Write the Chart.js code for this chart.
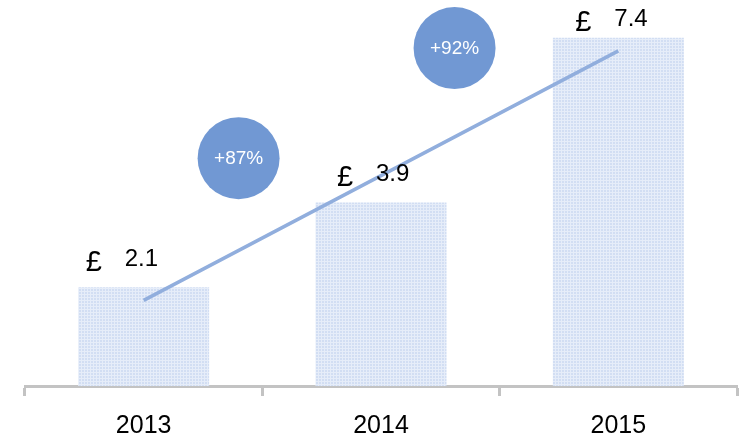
<!DOCTYPE html>
<html>
<head>
<meta charset="utf-8">
<script src="https://cdn.jsdelivr.net/npm/chart.js@4/dist/chart.umd.min.js"></script>
<style>
html,body{margin:0;padding:0;background:#fff;}
canvas{display:block;}
</style>
</head>
<body>
<canvas id="c" width="742" height="440"></canvas>
<script>
// ---- data ----
const years = ['2013', '2014', '2015'];
const revenue = [2.1, 3.9, 7.4];
const currency = '£';
const trend = [1.82, 4.47, 7.12];          // linear trend
const growthLabels = ['+87%', '+92%'];
const growthX = [0.40, 1.31];               // position between categories (index units)
const growthY = [4.84, 7.18];               // position in value units

// ---- pattern for bars ----
function makePattern() {
  const p = document.createElement('canvas');
  p.width = 3; p.height = 3;
  const g = p.getContext('2d');
  g.fillStyle = '#D2DEF3';
  g.fillRect(0, 0, 3, 3);
  g.fillStyle = '#E6EDF9';
  g.fillRect(0, 0, 3, 1);
  g.fillRect(0, 0, 1, 3);
  return document.getElementById('c').getContext('2d').createPattern(p, 'repeat');
}

const valueLabelPlugin = {
  id: 'valueLabels',
  afterDatasetsDraw(chart, args, opts) {
    const ctx = chart.ctx;
    const meta = chart.getDatasetMeta(2);
    ctx.save();
    meta.data.forEach((bar, i) => {
      const shift = opts.shift[i] || 0;
      const numBase = Math.max(bar.y - 21, 26);
      const curBase = numBase + 5;
      ctx.fillStyle = '#000';
      ctx.textAlign = 'left';
      ctx.textBaseline = 'alphabetic';
      ctx.font = '29px "Liberation Sans", Arial, sans-serif';
      ctx.fillText(currency, bar.x - 44 + shift, curBase);
      ctx.font = '24px "Liberation Sans", Arial, sans-serif';
      ctx.fillText(revenue[i].toFixed(1), bar.x - 5 + shift, numBase);
    });
    const cmeta = chart.getDatasetMeta(0);
    ctx.fillStyle = '#fff';
    ctx.textAlign = 'center';
    ctx.textBaseline = 'middle';
    ctx.font = '19px "Liberation Sans", Arial, sans-serif';
    cmeta.data.forEach((pt, i) => {
      ctx.fillText(growthLabels[i], pt.x, pt.y + 1);
    });
    ctx.restore();
  }
};

new Chart(document.getElementById('c'), {
  type: 'bar',
  data: {
    labels: years,
    datasets: [
      {
        type: 'scatter',
        xAxisID: 'x2',
        data: growthX.map((x, i) => ({x: x, y: growthY[i]})),
        backgroundColor: '#7198D3',
        borderWidth: 0,
        pointRadius: 41,
        pointHoverRadius: 41,
        showLine: false,
        order: 0
      },
      {
        type: 'line',
        data: trend,
        borderColor: '#91AEDD',
        borderWidth: 3.5,
        pointRadius: 0,
        tension: 0,
        fill: false,
        order: 1
      },
      {
        type: 'bar',
        data: revenue,
        backgroundColor: makePattern(),
        borderWidth: 0,
        grouped: false,
        categoryPercentage: 1,
        barPercentage: 0.552,
        order: 2
      }
    ]
  },
  options: {
    responsive: false,
    animation: false,
    devicePixelRatio: 1,
    layout: {autoPadding: false, padding: {left: 25, right: 5, top: 0, bottom: 0}},
    plugins: {
      legend: {display: false},
      tooltip: {enabled: false},
      valueLabels: {shift: [-14, 0, 1]}
    },
    scales: {
      x: {
        type: 'category',
        offset: true,
        grid: {
          offset: true,
          drawOnChartArea: false,
          drawTicks: true,
          tickLength: 10,
          tickWidth: 3,
          tickColor: '#C3C3C3'
        },
        border: {display: true, color: '#C3C3C3', width: 3},
        ticks: {
          color: '#000',
          padding: 15,
          font: {family: '"Liberation Sans", Arial, sans-serif', size: 25}
        },
        afterFit(scale) { scale.height = 54; }
      },
      x2: {
        type: 'linear',
        display: false,
        offset: false,
        grid: {offset: false},
        min: -0.5,
        max: 2.5
      },
      y: {
        display: false,
        min: 0,
        max: 8.2
      }
    }
  },
  plugins: [valueLabelPlugin]
});
</script>
</body>
</html>
